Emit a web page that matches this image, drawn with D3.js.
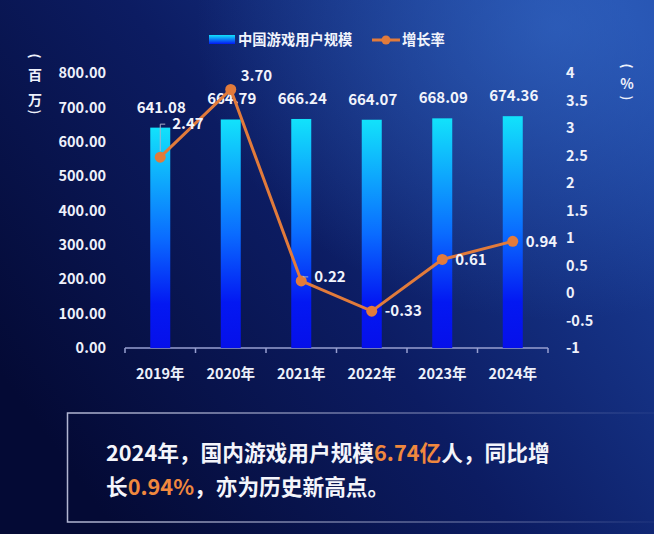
<!DOCTYPE html>
<html>
<head>
<meta charset="utf-8">
<script src="https://cdn.jsdelivr.net/npm/d3@7"></script>
<style>
  html, body { margin: 0; padding: 0; background: #050b38; }
  svg { display: block; }
  text { font-family: "Noto Sans CJK SC", "Noto Sans", sans-serif; font-weight: bold; }
</style>
</head>
<body>
<svg id="chart" width="654" height="534"></svg>
<script>
// chart data
const years = ['2019年', '2020年', '2021年', '2022年', '2023年', '2024年'];
const users = [641.08, 664.79, 666.24, 664.07, 668.09, 674.36];   // 百万
const growth = [2.47, 3.70, 0.22, -0.33, 0.61, 0.94];              // %
const leftTicks = [0, 100, 200, 300, 400, 500, 600, 700, 800];
const rightTicks = [-1, -0.5, 0, 0.5, 1, 1.5, 2, 2.5, 3, 3.5, 4];
const legendNames = ['中国游戏用户规模', '增长率'];

// label nudges for the growth line (dx, dy from the point)
const rateLabelShift = [[12, -33], [10, -14], [13, -4], [13, 0], [13, 1], [13, 1]];

const svg = d3.select('#chart');
const width = +svg.attr('width');
const height = +svg.attr('height');
const margin = { top: 73, right: 106, bottom: 185, left: 125 };
const orange = '#e27b3b';

const defs = svg.append('defs');

// background
const bg = defs.append('linearGradient').attr('id', 'bg')
    .attr('x1', '0').attr('y1', '0.7').attr('x2', '1').attr('y2', '0.1');
bg.append('stop').attr('offset', '0').attr('stop-color', '#040a35');
bg.append('stop').attr('offset', '0.45').attr('stop-color', '#0c1c62');
bg.append('stop').attr('offset', '1').attr('stop-color', '#1d45a3');

const glow = defs.append('radialGradient').attr('id', 'glow')
    .attr('cx', '0.85').attr('cy', '0.05').attr('r', '0.55');
glow.append('stop').attr('offset', '0').attr('stop-color', '#3a72d0').attr('stop-opacity', 0.55);
glow.append('stop').attr('offset', '1').attr('stop-color', '#3a72d0').attr('stop-opacity', 0);

const barGrad = defs.append('linearGradient').attr('id', 'barGrad')
    .attr('x1', 0).attr('y1', 0).attr('x2', 0).attr('y2', 1);
barGrad.append('stop').attr('offset', '0').attr('stop-color', '#12e2fb');
barGrad.append('stop').attr('offset', '0.5').attr('stop-color', '#0a6cff');
barGrad.append('stop').attr('offset', '0.8').attr('stop-color', '#0318f2');
barGrad.append('stop').attr('offset', '1').attr('stop-color', '#0610ea');

const legendGrad = defs.append('linearGradient').attr('id', 'legendGrad')
    .attr('x1', 0).attr('y1', 0).attr('x2', 0).attr('y2', 1);
legendGrad.append('stop').attr('offset', '0').attr('stop-color', '#12e2fb');
legendGrad.append('stop').attr('offset', '1').attr('stop-color', '#0318f2');

const boxGrad = defs.append('linearGradient').attr('id', 'boxGrad')
    .attr('gradientUnits', 'userSpaceOnUse')
    .attr('x1', 67).attr('y1', 0).attr('x2', 654).attr('y2', 0);
boxGrad.append('stop').attr('offset', '0').attr('stop-color', '#d0d4ee').attr('stop-opacity', 0.85);
boxGrad.append('stop').attr('offset', '0.75').attr('stop-color', '#d0d4ee').attr('stop-opacity', 0.3);
boxGrad.append('stop').attr('offset', '1').attr('stop-color', '#d0d4ee').attr('stop-opacity', 0.05);

svg.append('rect').attr('width', width).attr('height', height).attr('fill', 'url(#bg)');
svg.append('rect').attr('width', width).attr('height', height).attr('fill', 'url(#glow)');

// scales
const x = d3.scaleBand()
    .domain(years)
    .range([margin.left, width - margin.right]);

const yLeft = d3.scaleLinear()
    .domain([0, 800])
    .range([height - margin.bottom - 1, margin.top]);

const yRight = d3.scaleLinear()
    .domain([-1, 4])
    .range([height - margin.bottom - 1, margin.top]);

const barWidth = 20;
const cx = d => x(d) + x.bandwidth() / 2;

// left axis
svg.append('g')
    .attr('transform', `translate(${margin.left},0)`)
    .call(d3.axisLeft(yLeft).tickValues(leftTicks).tickFormat(d => d.toFixed(2)).tickSize(0).tickPadding(19))
    .call(g => g.select('.domain').remove())
    .selectAll('text')
    .attr('fill', '#eef1fb')
    .style('font-size', '14.5px');

// right axis
svg.append('g')
    .attr('transform', `translate(${width - margin.right},0)`)
    .call(d3.axisRight(yRight).tickValues(rightTicks).tickFormat(d => String(d)).tickSize(0).tickPadding(18))
    .call(g => g.select('.domain').remove())
    .selectAll('text')
    .attr('fill', '#eef1fb')
    .style('font-size', '14.5px');

// bottom axis: line with ticks on band edges
const axisY = yLeft(0);
const edges = years.map(d => x(d)).concat([x(years[years.length - 1]) + x.bandwidth()]);
const xAxis = svg.append('g');
xAxis.append('line')
    .attr('x1', edges[0]).attr('x2', edges[edges.length - 1])
    .attr('y1', axisY).attr('y2', axisY)
    .attr('stroke', '#979fd0').attr('stroke-width', 1.5);
xAxis.selectAll('.edge').data(edges).join('line')
    .attr('x1', d => d).attr('x2', d => d)
    .attr('y1', axisY).attr('y2', axisY + 5)
    .attr('stroke', '#979fd0').attr('stroke-width', 1.5);
xAxis.selectAll('.year').data(years).join('text')
    .attr('x', d => cx(d)).attr('y', axisY + 31)
    .attr('text-anchor', 'middle')
    .attr('fill', '#eef1fb')
    .style('font-size', '14.5px')
    .text(d => d);

// bars
svg.append('g').selectAll('rect').data(users).join('rect')
    .attr('x', (d, i) => cx(years[i]) - barWidth / 2)
    .attr('y', d => yLeft(d))
    .attr('width', barWidth)
    .attr('height', d => axisY - yLeft(d))
    .attr('fill', 'url(#barGrad)');

svg.append('g').selectAll('text').data(users).join('text')
    .attr('x', (d, i) => cx(years[i]) + 1)
    .attr('y', d => yLeft(d) - 15)
    .attr('text-anchor', 'middle')
    .attr('fill', '#f2f4fc')
    .style('font-size', '15px')
    .text(d => d.toFixed(2));

// growth line
const line = d3.line()
    .x((d, i) => cx(years[i]))
    .y(d => yRight(d));

svg.append('path')
    .datum(growth)
    .attr('fill', 'none')
    .attr('stroke', orange)
    .attr('stroke-width', 3)
    .attr('d', line);

svg.append('g').selectAll('circle').data(growth).join('circle')
    .attr('cx', (d, i) => cx(years[i]))
    .attr('cy', d => yRight(d))
    .attr('r', 5.5)
    .attr('fill', orange);

// leader lines for labels pushed away from their points
const leaders = svg.append('g').attr('fill', 'none').attr('stroke', '#aab0c8').attr('stroke-width', 1);
growth.forEach((d, i) => {
  if (i !== 0 && i !== 2) return;
  const px = cx(years[i]), py = yRight(d);
  const ly = py + rateLabelShift[i][1];
  leaders.append('path')
      .attr('d', i === 0
        ? `M${px},${py - 6}V${ly}H${px + 5}`
        : `M${px + 2},${py - 5}V${ly}H${px + 7}`);
});

svg.append('g').selectAll('text').data(growth).join('text')
    .attr('x', (d, i) => cx(years[i]) + rateLabelShift[i][0])
    .attr('y', (d, i) => yRight(d) + rateLabelShift[i][1] + 5)
    .attr('fill', '#f2f4fc')
    .style('font-size', '15px')
    .text(d => d.toFixed(2));

// unit labels, written top to bottom with turned brackets
function unitLabel(cxPos, chars, ys) {
  const g = svg.append('g').attr('fill', '#eef1fb');
  chars.forEach((c, i) => {
    const isBracket = c === '(' || c === ')';
    g.append('text')
        .attr('transform', `translate(${cxPos},${ys[i]})` + (isBracket ? ' rotate(90)' : ''))
        .attr('text-anchor', 'middle')
        .attr('dominant-baseline', 'central')
        .style('font-size', isBracket ? '13px' : '14px')
        .text(c);
  });
}
unitLabel(35, ['(', '百', '万', ')'], [56, 74, 99, 112]);
unitLabel(627, ['(', '%', ')'], [66, 83, 98]);

// legend
const legend = svg.append('g');
legend.append('rect')
    .attr('x', 209).attr('y', 35).attr('width', 26).attr('height', 9)
    .attr('fill', 'url(#legendGrad)');
legend.append('text')
    .attr('x', 238).attr('y', 45)
    .attr('fill', '#f2f4fc')
    .style('font-size', '14.3px')
    .text(legendNames[0]);
legend.append('line')
    .attr('x1', 372).attr('x2', 400).attr('y1', 40).attr('y2', 40)
    .attr('stroke', orange).attr('stroke-width', 3);
legend.append('circle')
    .attr('cx', 386).attr('cy', 40).attr('r', 4.5)
    .attr('fill', orange);
legend.append('text')
    .attr('x', 402).attr('y', 45)
    .attr('fill', '#f2f4fc')
    .style('font-size', '14.3px')
    .text(legendNames[1]);

// summary box
svg.append('path')
    .attr('d', 'M654,413H67.5V522H654')
    .attr('fill', 'none')
    .attr('stroke', 'url(#boxGrad)')
    .attr('stroke-width', 1.5);

const note1 = svg.append('text').attr('x', 106).attr('y', 461)
    .attr('fill', '#f4f5fb').style('font-size', '21.7px');
note1.append('tspan').text('2024年，国内游戏用户规模');
note1.append('tspan').attr('fill', '#f0883e').text('6.74亿');
note1.append('tspan').text('人，同比增');

const note2 = svg.append('text').attr('x', 106).attr('y', 495)
    .attr('fill', '#f4f5fb').style('font-size', '21.7px');
note2.append('tspan').text('长');
note2.append('tspan').attr('fill', '#f0883e').text('0.94%');
note2.append('tspan').text('，亦为历史新高点。');
</script>
</body>
</html>
